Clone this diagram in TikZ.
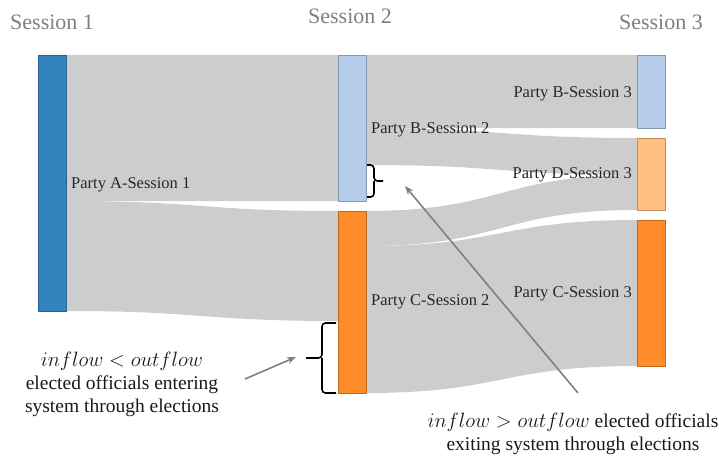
\documentclass[tikz,border=0pt]{standalone}
\usepackage{fontspec}
\setmainfont{Liberation Serif}
\usetikzlibrary{arrows.meta}
\definecolor{cA}{HTML}{3383BE}
\definecolor{cB}{HTML}{B4CCE9}
\definecolor{cC}{HTML}{FF8C29}
\definecolor{cD}{HTML}{FFBF80}
\definecolor{flowgray}{HTML}{CDCDCD}
\definecolor{headgray}{HTML}{7F7F7F}
\tikzset{
  partybox/.style={draw=#1!75!black, fill=#1, line width=0.8pt, inner sep=0pt, minimum width=28pt, anchor=north west},
  flowband/.style={fill=flowgray, draw=none},
  head/.style={text=headgray, font=\fontsize{22}{26}\selectfont, inner sep=0pt},
  plabel/.style={text=black!85, font=\fontsize{16.5}{19}\selectfont, inner sep=0pt},
  note/.style={text=black!90, font=\fontsize{19.5}{23}\selectfont, inner sep=0pt, align=center},
  pointer/.style={draw=black!50, line width=1.6pt, -{Stealth[length=9pt,width=7pt]}},
  bracestyle/.style={draw=black, line width=1.6pt, rounded corners=3.5pt}
}
\newcommand{\flowbandpath}[6]{%
  % x0, t0, b0, x1, t1, b1
  \path[flowband] (#1,#2) .. controls ({(#1+#4)/2},#2) and ({(#1+#4)/2},#5) .. (#4,#5)
     -- (#4,#6) .. controls ({(#1+#4)/2},#6) and ({(#1+#4)/2},#3) .. (#1,#3) -- cycle;}
\begin{document}
\begin{tikzpicture}[x=1pt,y=-1pt]
\useasboundingbox (0,0) rectangle (719,460);
% flows
\flowbandpath{66}{55}{201}{338}{55}{201}
\flowbandpath{66}{201}{311}{338}{211}{321}
\flowbandpath{366}{55}{128}{637}{55}{128}
\flowbandpath{366}{128}{165}{637}{138}{175}
\flowbandpath{366}{211}{246}{637}{175}{210}
\flowbandpath{366}{246}{393}{637}{220}{366}
% nodes
\node[partybox=cA, minimum height=256pt] (A) at (38,55) {};
\node[partybox=cB, minimum height=146pt] (B2) at (338,55) {};
\node[partybox=cC, minimum height=182pt] (C2) at (338,211) {};
\node[partybox=cB, minimum height=73pt] (B3) at (637,55) {};
\node[partybox=cD, minimum height=72pt] (D3) at (637,138) {};
\node[partybox=cC, minimum height=146pt] (C3) at (637,220) {};
% headings
\node[head, anchor=west] (h1) at (10,22) {Session 1};
\node[head] (h2) at (350,16) {Session 2};
\node[head, anchor=east] (h3) at (703,22) {Session 3};
% labels
\node[plabel, anchor=west] (lA) at (71,185) {Party A-Session 1};
\node[plabel, anchor=west] (lB2) at (371,130) {Party B-Session 2};
\node[plabel, anchor=west] (lC2) at (371,302) {Party C-Session 2};
\node[plabel, anchor=east] (lB3) at (632,94) {Party B-Session 3};
\node[plabel, anchor=east] (lD3) at (632,175) {Party D-Session 3};
\node[plabel, anchor=east] (lC3) at (632,294) {Party C-Session 3};
% braces
\draw[bracestyle] (367,165) -- (374,165) -- (374,181) -- (383,181);
\draw[bracestyle] (367,197) -- (374,197) -- (374,181);
\draw[bracestyle] (336,323) -- (322,323) -- (322,358) -- (306,358);
\draw[bracestyle] (336,393) -- (322,393) -- (322,358);
\coordinate (bt) at (296,357);
\coordinate (tt) at (405,186);
% notes
\node[note] (n1) at (122,384) {$inflow < outflow$\\elected officials entering\\system through elections};
\node[note] (n2) at (573,434) {$inflow > outflow$ elected officials\\exiting system through elections};
\coordinate (n1a) at (245,379);
\coordinate (n2a) at (578,393);
\draw[pointer] (n1a) -- (bt);
\draw[pointer] (n2a) -- (tt);
\end{tikzpicture}
\end{document}
